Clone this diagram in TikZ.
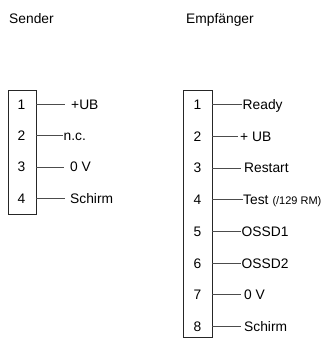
\documentclass[tikz,border=0pt]{standalone}
\usepackage{fontspec}
\setmainfont{Liberation Sans}
\begin{document}
\begin{tikzpicture}[x=1pt,y=-1pt,
  txt/.style={anchor=base west,inner sep=0pt,font=\fontsize{13.8}{16}\selectfont},
  num/.style={anchor=base,inner sep=0pt,font=\fontsize{13.8}{16}\selectfont},
  pinbox/.style={draw=black!85,line width=0.9pt},
  wire/.style={draw=black!70,line width=0.8pt}]
\useasboundingbox (0,0) rectangle (328,345);
% headings
\node[txt] (hs) at (9,24) {Sender};
\node[txt] (he) at (186,24) {Empfänger};
% sender box
\draw[pinbox] (8,90) rectangle (36,214);
\foreach \i/\t/\xs/\xe in {1/+UB/71/65,2/n.c./63.5/63,3/0 V/70/64,4/Schirm/70/65}{
  \pgfmathsetmacro{\yb}{109.5+31.2*(\i-1)}
  \node[num] (sn\i) at (21.5,\yb) {\i};
  \node[txt] (sl\i) at (\xs,\yb) {\t};
  \coordinate (sw\i) at (36,\yb-5);
  \coordinate (se\i) at (\xe,\yb-5);
  \draw[wire] (sw\i) -- (se\i);
}
% receiver box
\draw[pinbox] (183,90) rectangle (212,337);
\foreach \i/\t/\xs/\xe in {1/Ready/242.5/241.5,2/+ UB/240/238,3/Restart/244/241,4/Test/243/242.5,5/OSSD1/241.5/241,6/OSSD2/241.5/241,7/0 V/244/241,8/Schirm/244/241}{
  \pgfmathsetmacro{\yb}{109.5+31.7*(\i-1)}
  \node[num] (en\i) at (197.5,\yb) {\i};
  \node[txt] (el\i) at (\xs,\yb) {\t};
  \coordinate (ew\i) at (212,\yb-5);
  \coordinate (ee\i) at (\xe,\yb-5);
  \draw[wire] (ew\i) -- (ee\i);
}
\node[anchor=base west,inner sep=0pt,font=\fontsize{11}{13}\selectfont] (rm) at (272.3,204.6) {(/129 RM)};
\end{tikzpicture}
\end{document}
